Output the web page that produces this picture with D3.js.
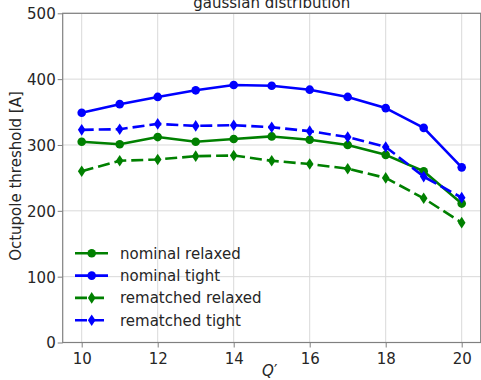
<!DOCTYPE html>
<html>
<head>
<meta charset="utf-8">
<script src="https://cdn.jsdelivr.net/npm/d3@7"></script>
<style>
  html, body { margin: 0; padding: 0; background: #fff; }
  svg { display: block; font-family: "DejaVu Sans", sans-serif; }
</style>
</head>
<body>
<svg id="chart" width="481" height="380"></svg>
<script>
// Chromaticity Q' scan and octupole threshold for each optics configuration
const qPrime = [10, 11, 12, 13, 14, 15, 16, 17, 18, 19, 20];
const nominalRelaxed   = [305, 301, 312, 305, 309, 313, 308, 300, 285, 260, 211];
const nominalTight     = [349, 362, 373, 383, 391, 390, 384, 373, 356, 326, 266];
const rematchedRelaxed = [260, 276, 278, 283, 284, 276, 271, 264, 250, 219, 182];
const rematchedTight   = [323, 324, 332, 329, 330, 327, 321, 312, 297, 252, 220];
const xTicks = [10, 12, 14, 16, 18, 20];
const yTicks = [0, 100, 200, 300, 400, 500];
const titleText = "gaussian distribution";
const yLabel = "Octupole threshold [A]";

const series = [
  { name: "nominal relaxed",   values: nominalRelaxed,   color: "#008000", dashed: false, marker: "circle" },
  { name: "nominal tight",     values: nominalTight,     color: "#0000ff", dashed: false, marker: "circle" },
  { name: "rematched relaxed", values: rematchedRelaxed, color: "#008000", dashed: true,  marker: "diamond" },
  { name: "rematched tight",   values: rematchedTight,   color: "#0000ff", dashed: true,  marker: "diamond" }
];

const svg = d3.select("#chart");
const plot = { left: 62.7, right: 480.7, top: 13.3, bottom: 342.5 };

const x = d3.scaleLinear().domain([9.5, 20.5]).range([plot.left, plot.right]);
const y = d3.scaleLinear().domain([0, 500]).range([plot.bottom, plot.top]);

const spine = "#808080";
const textColor = "#262626";

// grid
const grid = svg.append("g");
grid.selectAll(".gx").data(xTicks).join("line")
  .attr("x1", d => x(d)).attr("x2", d => x(d))
  .attr("y1", plot.top).attr("y2", plot.bottom)
  .attr("stroke", "#d9d9d9").attr("stroke-width", 1);
grid.selectAll(".gy").data(yTicks).join("line")
  .attr("x1", plot.left).attr("x2", plot.right)
  .attr("y1", d => y(d)).attr("y2", d => y(d))
  .attr("stroke", "#d9d9d9").attr("stroke-width", 1);

// axes
const xAxis = d3.axisBottom(x).tickValues(xTicks).tickSize(5).tickPadding(4).tickFormat(d3.format("d"));
const yAxis = d3.axisLeft(y).tickValues(yTicks).tickSize(5).tickPadding(2).tickFormat(d3.format("d"));

const gx = svg.append("g").attr("transform", `translate(0,${plot.bottom})`).call(xAxis);
const gy = svg.append("g").attr("transform", `translate(${plot.left},0)`).call(yAxis);
[gx, gy].forEach(g => {
  g.select(".domain").remove();
  g.selectAll(".tick line").attr("stroke", spine).attr("stroke-width", 1);
  g.selectAll(".tick text").attr("fill", textColor).style("font-size", "15px")
    .style("font-family", "DejaVu Sans, sans-serif");
});
gx.selectAll(".tick text").attr("dy", "0.85em");
gy.selectAll(".tick text").attr("dy", "0.36em");

// frame
svg.append("rect")
  .attr("x", plot.left).attr("y", plot.top)
  .attr("width", plot.right - plot.left).attr("height", plot.bottom - plot.top)
  .attr("fill", "none").attr("stroke", spine).attr("stroke-width", 1.2);

// series
const line = d3.line().x((d, i) => x(qPrime[i])).y(d => y(d));
const circleSym = d3.symbol().type(d3.symbolCircle).size(Math.PI * 4.3 * 4.3);

function drawMarker(g, s, cx, cy) {
  if (s.marker === "circle") {
    g.append("circle").attr("cx", cx).attr("cy", cy).attr("r", 4.3).attr("fill", s.color);
  } else {
    const hw = 3.8, hh = 5.8;
    g.append("path")
      .attr("d", `M${cx},${cy - hh}L${cx + hw},${cy}L${cx},${cy + hh}L${cx - hw},${cy}Z`)
      .attr("fill", s.color);
  }
}

series.forEach(s => {
  const g = svg.append("g");
  g.append("path").datum(s.values)
    .attr("d", line)
    .attr("fill", "none")
    .attr("stroke", s.color)
    .attr("stroke-width", 2.6)
    .attr("stroke-linejoin", "round")
    .attr("stroke-dasharray", s.dashed ? "12,5" : null);
  s.values.forEach((v, i) => drawMarker(g, s, x(qPrime[i]), y(v)));
});

// legend
const legend = svg.append("g");
series.forEach((s, i) => {
  const ly = 253.3 + i * 22.3;
  const g = legend.append("g");
  g.append("line")
    .attr("x1", 75).attr("x2", 108).attr("y1", ly).attr("y2", ly)
    .attr("stroke", s.color).attr("stroke-width", 2.6)
    .attr("stroke-dasharray", s.dashed ? "12,5" : null);
  drawMarker(g, s, 91.7, ly);
  g.append("text").attr("x", 120).attr("y", ly).attr("dy", "0.36em")
    .attr("fill", textColor).style("font-size", "15px").text(s.name);
});

// title
svg.append("text")
  .attr("x", (plot.left + plot.right) / 2).attr("y", 8)
  .attr("text-anchor", "middle").attr("fill", textColor)
  .style("font-size", "15px").text(titleText);

// axis labels
const xl = svg.append("text")
  .attr("x", (plot.left + plot.right) / 2 - 2).attr("y", 376)
  .attr("text-anchor", "middle").attr("fill", textColor).style("font-size", "15px");
xl.append("tspan").style("font-style", "italic").text("Q");
xl.append("tspan").text("′");

svg.append("text")
  .attr("transform", `translate(21,176) rotate(-90)`)
  .attr("text-anchor", "middle").attr("fill", textColor)
  .style("font-size", "15px").text(yLabel);
</script>
</body>
</html>
